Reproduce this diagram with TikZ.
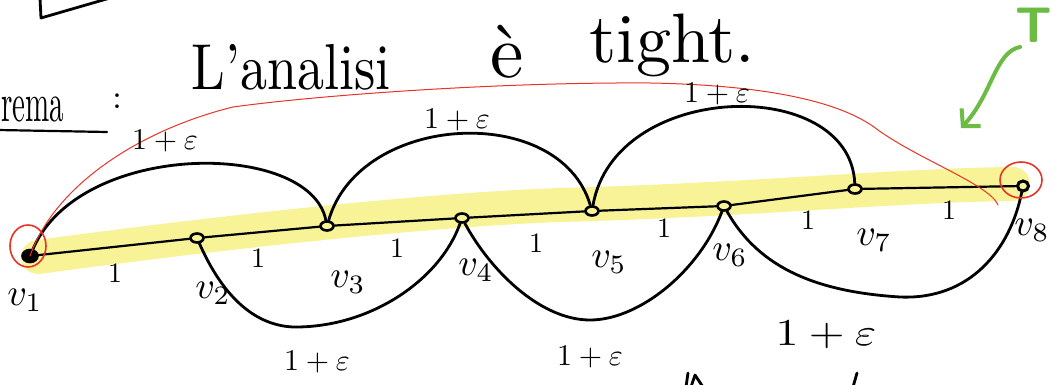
\documentclass[tikz,border=0pt]{standalone}
\usetikzlibrary{shapes.geometric,arrows.meta}
\definecolor{hl}{RGB}{247,243,150}
\definecolor{redink}{RGB}{232,52,38}
\definecolor{greenink}{RGB}{108,188,68}
\begin{document}
\begin{tikzpicture}[x=1pt,y=-1pt,
  ink/.style={line width=2.8pt, line cap=round, line join=round},
  vert/.style={ellipse, draw, line width=2.6pt, minimum width=13pt, minimum height=9pt, inner sep=0pt},
  vlab/.style={scale=3.8},
  wlab/.style={scale=2.8},
  elab/.style={scale=3},
  elabw/.style={xscale=4.6, yscale=3.8}]
\clip (0,0) rectangle (1052,385);
\fill[white] (0,0) rectangle (1052,385);
% highlighter band
\draw[hl, line width=34pt, line cap=round] (38,257) .. controls (200,235) and (420,210) .. (560,205) .. controls (750,200) and (900,185) .. (1013,184);
% vertices
\node[vert, fill=black, minimum width=15pt, minimum height=12pt] (v1) at (30,256) {};
\node[vert] (v2) at (197,238) {};
\node[vert] (v3) at (327,226) {};
\node[vert] (v4) at (462,218) {};
\node[vert] (v5) at (592,211) {};
\node[vert] (v6) at (724,206) {};
\node[vert] (v7) at (855,189) {};
\node[vert, minimum width=11pt, minimum height=10pt, line width=3pt] (v8) at (1023,186) {};
% path edges
\draw[ink, line width=2.2pt] (v1) -- (v2) (v2) -- (v3) (v3) -- (v4) (v4) -- (v5) (v5) -- (v6) (v6) -- (v7) (v7) -- (v8);
% upper arcs
\draw[ink] (v1) .. controls (80,140) and (310,140) .. (v3);
\draw[ink] (v3) .. controls (360,112) and (560,102) .. (v5);
\draw[ink] (v5) .. controls (615,80) and (850,75) .. (v7);
% lower arcs
\coordinate (b24) at (293,327);
\coordinate (b46) at (590,320);
\coordinate (b68) at (900,297);
\draw[ink] (v2) .. controls (220,290) and (250,325) .. (b24) .. controls (370,328) and (440,280) .. (v4);
\draw[ink] (v4) .. controls (490,270) and (540,320) .. (b46) .. controls (640,320) and (700,270) .. (v6);
\draw[ink] (v6) .. controls (760,270) and (820,292) .. (b68) .. controls (970,300) and (1010,250) .. (v8);
% red annotation
\coordinate (r1) at (233,107);
\coordinate (r2) at (650,83);
\coordinate (r3) at (878,130);
\coordinate (r4) at (998,205);
\draw[redink, line width=1pt, line cap=round] (v1.center) .. controls (55,185) and (140,130) .. (r1) .. controls (320,95) and (500,82) .. (r2) .. controls (760,85) and (840,100) .. (r3) .. controls (920,160) and (990,185) .. (r4);
\draw[redink, line width=1.6pt] (28,246) ellipse [x radius=18, y radius=21];
\draw[redink, line width=1.6pt] (1021,180) ellipse [x radius=21, y radius=18];
% green annotation
\node[text=greenink, font=\sffamily\bfseries, scale=5] (T) at (1034,25) {T};
\coordinate (g0) at (1020,47);
\coordinate (g1) at (961,128);
\draw[greenink, line width=4pt, line cap=round, -{Straight Barb[length=12pt,width=26pt]}] (g0) .. controls (995,52) and (992,95) .. (g1);
% title
\draw[ink] (40,-2) -- (41,18) -- (110,-2);
\node[xscale=2.9, yscale=5.5, anchor=base west, inner sep=0pt] (t0) at (1,121) {rema};
\draw[ink, line width=2.2pt] (-2,130) -- (107,132);
\node[scale=3.4] (colon) at (117,101) {:};
\node[xscale=5.4, yscale=6.5, anchor=base] (t1) at (291,90) {L'analisi};
\node[scale=7.5, anchor=base] (t2) at (507,78) {è};
\node[scale=7, anchor=base] (t3) at (672,63) {tight.};
% vertex labels
\node[vlab] (l1) at (25,300) {$v_1$};
\node[vlab] (l2) at (213,293) {$v_2$};
\node[vlab] (l3) at (348,282) {$v_3$};
\node[vlab] (l4) at (476,270) {$v_4$};
\node[vlab] (l5) at (609,262) {$v_5$};
\node[vlab] (l6) at (730,255) {$v_6$};
\node[vlab] (l7) at (874,240) {$v_7$};
\node[vlab] (l8) at (1032,230) {$v_8$};
% weights 1
\node[wlab] (w12) at (115,273) {1};
\node[wlab] (w23) at (258,258) {1};
\node[wlab] (w34) at (397,248) {1};
\node[wlab] (w45) at (536,243) {1};
\node[wlab] (w56) at (664,228) {1};
\node[wlab] (w67) at (808,220) {1};
\node[wlab] (w78) at (949,210) {1};
% weights 1+eps
\node[elab] (e13) at (165,141) {$1+\varepsilon$};
\node[elab] (e35) at (457,120) {$1+\varepsilon$};
\node[elab] (e57) at (717,94) {$1+\varepsilon$};
\node[elab] (e24) at (317,362) {$1+\varepsilon$};
\node[elab] (e46) at (590,357) {$1+\varepsilon$};
\node[elabw] (e68) at (826,335) {$1+\varepsilon$};
% cut-off strokes at the bottom edge
\draw[ink] (686,387) -- (688,373);
\draw[ink] (691,387) -- (695,375) -- (703,387);
\draw[ink] (853,387) -- (857,373);
\end{tikzpicture}
\end{document}
